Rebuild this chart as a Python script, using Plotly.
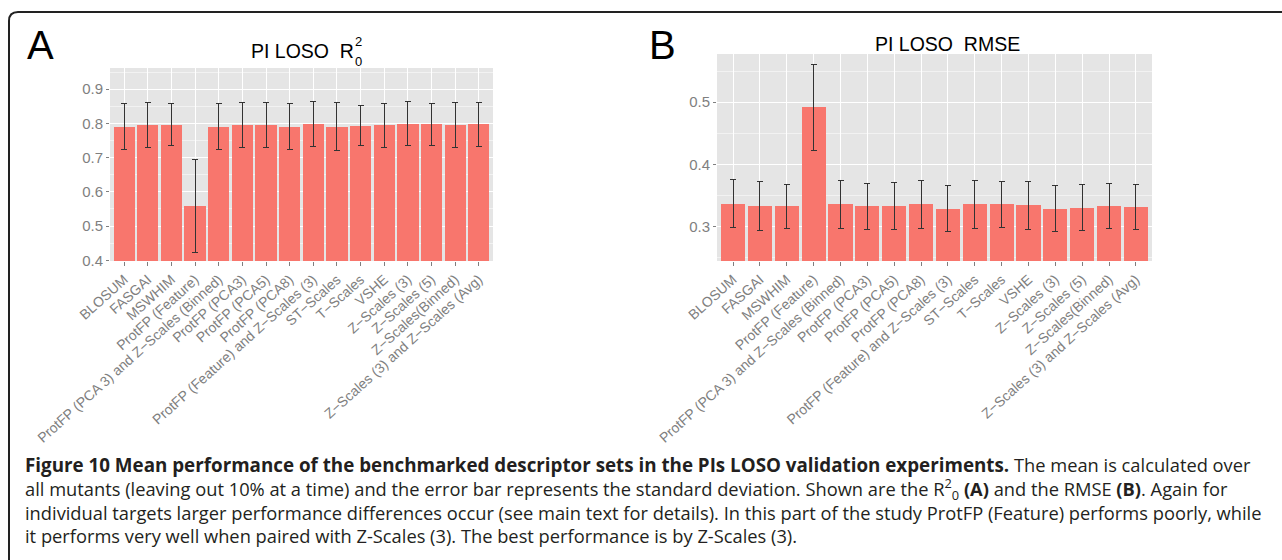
import plotly.graph_objects as go

categories = ["BLOSUM", "FASGAI", "MSWHIM", "ProtFP (Feature)",
              "ProtFP (PCA 3) and Z−Scales (Binned)", "ProtFP (PCA3)", "ProtFP (PCA5)",
              "ProtFP (PCA8)", "ProtFP (Feature) and Z−Scales (3)", "ST−Scales", "T−Scales",
              "VSHE", "Z−Scales (3)", "Z−Scales (5)", "Z−Scales(Binned)",
              "Z−Scales (3) and Z−Scales (Avg)"]

r2_mean = [0.791, 0.795, 0.796, 0.558, 0.791, 0.795, 0.795, 0.791,
           0.798, 0.791, 0.793, 0.794, 0.799, 0.797, 0.795, 0.797]
r2_sd = [0.0665, 0.0655, 0.061, 0.1355, 0.0675, 0.0655, 0.065, 0.067,
         0.066, 0.069, 0.058, 0.0655, 0.0645, 0.0625, 0.0655, 0.065]

rmse_mean = [0.3366, 0.3333, 0.3328, 0.4914, 0.3355, 0.3323, 0.3328, 0.3360,
             0.3290, 0.3360, 0.3360, 0.3339, 0.3290, 0.3306, 0.3328, 0.3312]
rmse_sd = [0.0385, 0.0393, 0.0355, 0.0699, 0.0382, 0.0376, 0.0377, 0.0385,
           0.0369, 0.0385, 0.0371, 0.0393, 0.0363, 0.0372, 0.0358, 0.0363]

r2_ticks = [0.4, 0.5, 0.6, 0.7, 0.8, 0.9]
rmse_ticks = [0.3, 0.4, 0.5]

W, H = 1282, 560
BAR = "#F8766D"
SANS = "Liberation Sans"
GREY = "#7F7F7F"


def px(x):
    return x / W


def py(y):
    return 1 - y / H


fig = go.Figure()
fig.add_trace(go.Bar(x=categories, y=r2_mean, width=0.9, marker_color=BAR,
                     marker_line_width=0,
                     error_y=dict(type="data", array=r2_sd, color="#333333",
                                  thickness=1, width=3),
                     xaxis="x", yaxis="y", showlegend=False))
fig.add_trace(go.Bar(x=categories, y=rmse_mean, width=0.9, marker_color=BAR,
                     marker_line_width=0,
                     error_y=dict(type="data", array=rmse_sd, color="#333333",
                                  thickness=1, width=3),
                     xaxis="x2", yaxis="y2", showlegend=False))

xcommon = dict(type="category", range=[-0.6, 15.6], tickangle=-42,
               tickfont=dict(family=SANS, size=14, color=GREY),
               showgrid=True, gridcolor="white", gridwidth=1.2,
               ticks="outside", ticklen=4, tickcolor=GREY, showline=False,
               zeroline=False, fixedrange=True, automargin=False)
ycommon = dict(tickfont=dict(family=SANS, size=15, color=GREY),
               showgrid=True, gridcolor="white", gridwidth=1.2,
               ticks="outside", ticklen=3, tickcolor=GREY, showline=False,
               zeroline=False, tickformat=".1f", automargin=False,
               minor=dict(showgrid=True, gridcolor="#F2F2F2", gridwidth=0.6,
                          dtick=0.05, ticks=""))

fig.update_layout(
    width=W, height=H, margin=dict(l=0, r=0, t=0, b=0, autoexpand=False),
    paper_bgcolor="white", plot_bgcolor="#E5E5E5", bargap=0,
    xaxis=dict(domain=[px(110), px(493)], anchor="y", **xcommon),
    yaxis=dict(domain=[py(261), py(68)], anchor="x", range=[0.398, 0.962],
               tickvals=r2_ticks, **ycommon),
    xaxis2=dict(domain=[px(717), px(1152)], anchor="y2", **xcommon),
    yaxis2=dict(domain=[py(261), py(54)], anchor="x2", range=[0.2446, 0.5774],
                tickvals=rmse_ticks, **ycommon),
)


def note(text, x, y, size, family=SANS, xanchor="center", color="black", align="center"):
    return dict(text=text, x=px(x), y=py(y), xref="paper", yref="paper",
                xanchor=xanchor, yanchor="middle", showarrow=False, align=align,
                font=dict(family=family, size=size, color=color))


ann = []
# panel letters
ann.append(note("A", 40, 45, 40))
ann.append(note("B", 663, 45, 40))
# titles
ann.append(note("PI LOSO  R", 356, 51, 19.5, xanchor="right"))
ann.append(note("2", 353, 42, 13, xanchor="left"))
ann.append(note("0", 353, 61, 13, xanchor="left"))
ann.append(note("PI LOSO  RMSE", 947, 44, 19.5))

caption_lines = [
    "<span style='font-size:18.8px'><b>Figure 10 Mean performance of the benchmarked descriptor sets in the PIs LOSO validation experiments.</b></span> The mean is calculated over",
    "all mutants (leaving out 10% at a time) and the error bar represents the standard deviation. Shown are the R<sup>2</sup><sub>0</sub> <b>(A)</b> and the RMSE <b>(B)</b>. Again for",
    "individual targets larger performance differences occur (see main text for details). In this part of the study ProtFP (Feature) performs poorly, while",
    "it performs very well when paired with Z-Scales (3). The best performance is by Z-Scales (3).",
]
ann.append(note("<br>".join(caption_lines), 23, 500, 18.3, family="Open Sans",
                xanchor="left", color="#231F20", align="left"))
fig.update_layout(annotations=ann)

# frame with rounded top-left corner
x0, y0, r = px(9), py(12), 9
fig.add_shape(type="path", xref="paper", yref="paper",
              path=f"M {x0},{py(600)} L {x0},{py(12 + r)} Q {x0},{y0} {px(9 + r)},{y0} L {px(1300)},{y0}",
              line=dict(color="#222222", width=2))

fig.write_html("out.html")
